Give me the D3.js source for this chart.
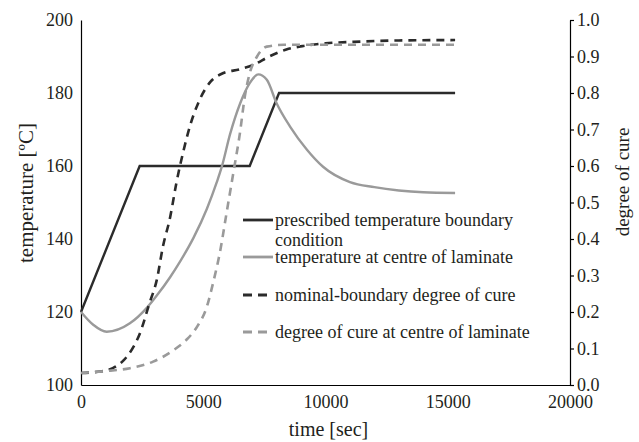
<!DOCTYPE html>
<html>
<head>
<meta charset="UTF-8">
<title>Cure cycle</title>
<script src="https://cdn.jsdelivr.net/npm/d3@7"></script>
<style>
  body { margin: 0; background: #fff; }
  text { font-family: "Liberation Serif", "Times New Roman", serif; fill: #231f20; }
  .axis path, .axis line { stroke: #000; stroke-width: 1.2; }
</style>
</head>
<body>
<script>

// prescribed temperature boundary condition [degC]
var boundaryTime = [0, 2400, 6900, 8100, 15300];
var boundaryTemp = [120, 160, 160, 180, 180];

// temperature at centre of laminate [degC]
var centreTime = [0, 500, 1050, 2000, 2700, 3100, 3650, 4050, 4600, 5150, 5550, 5750, 6100, 6500, 6900, 7250, 7600, 8000, 8550, 9250, 9900, 11000, 12000, 13000, 14000, 15300];
var centreTemp = [120, 116.5, 114.6, 116.9, 121.2, 124.5, 129.6, 133.8, 140.3, 148.3, 155.5, 159.6, 168.8, 177, 182.7, 185.1, 183.6, 177.2, 170.8, 164.4, 159.8, 155.6, 154.2, 153.3, 152.8, 152.6];

// nominal-boundary degree of cure
var nominalTime = [0, 800, 1300, 1750, 2150, 2400, 2800, 3100, 3350, 3650, 3900, 4200, 4450, 4850, 5300, 5800, 6500, 7050, 7700, 8400, 9100, 10000, 11500, 13000, 15300];
var nominalCure = [0.033, 0.037, 0.046, 0.068, 0.105, 0.14, 0.224, 0.288, 0.379, 0.461, 0.553, 0.644, 0.708, 0.781, 0.831, 0.854, 0.865, 0.877, 0.9, 0.919, 0.929, 0.936, 0.941, 0.944, 0.945];

// degree of cure at centre of laminate
var centreCureTime = [0, 1000, 2000, 2950, 3800, 4300, 4750, 5150, 5400, 5700, 5950, 6250, 6500, 6700, 6900, 7200, 7600, 8300, 10000, 12000, 15300];
var centreCure = [0.033, 0.038, 0.046, 0.064, 0.096, 0.123, 0.16, 0.215, 0.279, 0.37, 0.47, 0.589, 0.69, 0.79, 0.854, 0.9, 0.927, 0.932, 0.932, 0.932, 0.932];

var timeTicks = [0, 5000, 10000, 15000, 20000];
var tempTicks = [100, 120, 140, 160, 180, 200];
var cureTicks = [0, 0.1, 0.2, 0.3, 0.4, 0.5, 0.6, 0.7, 0.8, 0.9, 1.0];

var legendLabels = [
    ["prescribed temperature boundary", "condition"],
    ["temperature at centre of laminate"],
    ["nominal-boundary degree of cure"],
    ["degree of cure at centre of laminate"]
];

var width = 639, height = 442;
var plotL = 81, plotR = 570, plotT = 20, plotB = 385;

var svg = d3.select("body").append("svg")
            .attr("width", width)
            .attr("height", height);

var x = d3.scaleLinear().domain([0, 20000]).range([plotL, plotR]);
var yT = d3.scaleLinear().domain([100, 200]).range([plotB, plotT]);
var yC = d3.scaleLinear().domain([0, 1]).range([plotB, plotT]);

//Axes.
svg.append("g").attr("class", "axis")
   .attr("transform", "translate(0," + plotB + ")")
   .call(d3.axisBottom(x).tickValues(timeTicks).tickSize(0).tickPadding(10).tickFormat(d3.format("d")))
   .call(g => g.selectAll("text").attr("font-size", 18));

svg.append("g").attr("class", "axis")
   .attr("transform", "translate(" + plotL + ",0)")
   .call(d3.axisLeft(yT).tickValues(tempTicks).tickSize(0).tickPadding(8))
   .call(g => g.selectAll("text").attr("font-size", 18));

svg.append("g").attr("class", "axis")
   .attr("transform", "translate(" + plotR + ",0)")
   .call(d3.axisRight(yC).tickValues(cureTicks).tickSize(4).tickSizeOuter(0).tickPadding(3).tickFormat(d3.format(".1f")))
   .call(g => g.selectAll("text").attr("font-size", 18));

//Axis titles.
svg.append("text")
   .attr("x", (plotL + plotR) / 2 + 3).attr("y", 436)
   .attr("text-anchor", "middle").attr("font-size", 20)
   .text("time [sec]");

svg.append("text")
   .attr("transform", "translate(33,193) rotate(-90)")
   .attr("text-anchor", "middle").attr("font-size", 21)
   .text("temperature [ºC]");

svg.append("text")
   .attr("transform", "translate(629,182) rotate(-90)")
   .attr("text-anchor", "middle").attr("font-size", 19)
   .text("degree of cure");

//Series.
function zip(a, b) { return a.map((d, i) => [d, b[i]]); }

var series = [
    { pts: zip(boundaryTime, boundaryTemp), y: yT, color: "#2b2b2b", dash: null, curve: d3.curveLinear, w: 2.4 },
    { pts: zip(centreTime, centreTemp), y: yT, color: "#9a9a9a", dash: null, curve: d3.curveMonotoneX, w: 2.4 },
    { pts: zip(nominalTime, nominalCure), y: yC, color: "#2b2b2b", dash: "8,6", curve: d3.curveMonotoneX, w: 2.6 },
    { pts: zip(centreCureTime, centreCure), y: yC, color: "#9a9a9a", dash: "8,6", curve: d3.curveMonotoneX, w: 2.6 }
];

series.forEach(function (s) {
    var line = d3.line().x(d => x(d[0])).y(d => s.y(d[1])).curve(s.curve);
    svg.append("path")
       .attr("d", line(s.pts))
       .attr("fill", "none")
       .attr("stroke", s.color)
       .attr("stroke-width", s.w)
       .attr("stroke-dasharray", s.dash);
});

//Legend.
var legendY = [220, 257, 295, 332];
legendLabels.forEach(function (lab, i) {
    var s = series[i];
    svg.append("line")
       .attr("x1", 243).attr("x2", 273)
       .attr("y1", legendY[i]).attr("y2", legendY[i])
       .attr("stroke", s.color)
       .attr("stroke-width", s.w + 0.4)
       .attr("stroke-dasharray", s.dash ? "9,6" : null);
    var t = svg.append("text")
               .attr("x", 275).attr("y", legendY[i] + 6)
               .attr("font-size", 18);
    lab.forEach(function (l, j) {
        t.append("tspan").attr("x", 275).attr("dy", j == 0 ? 0 : 20).text(l);
    });
});

</script>
</body>
</html>
